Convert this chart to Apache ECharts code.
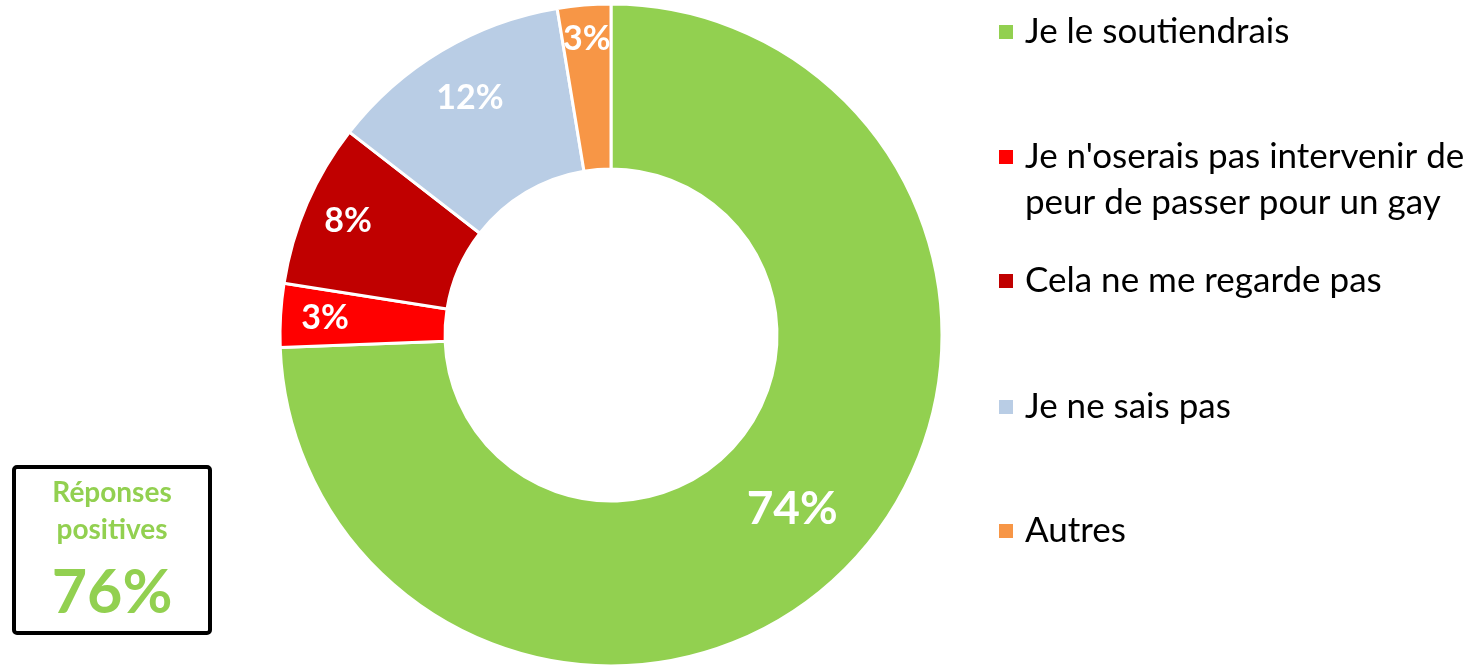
<!DOCTYPE html>
<html>
<head>
<meta charset="utf-8">
<script src="https://cdn.jsdelivr.net/npm/echarts@6/dist/echarts.min.js"></script>
<style>
  html, body { margin: 0; padding: 0; background: #fff; }
  #chart { width: 1480px; height: 672px; }
</style>
</head>
<body>
<div id="chart"></div>
<script>
const categories = [
  'Je le soutiendrais',
  "Je n'oserais pas intervenir de peur de passer pour un gay",
  'Cela ne me regarde pas',
  'Je ne sais pas',
  'Autres'
];
const values = [74.4, 3.1, 8.0, 11.9, 2.6];
const colors = ['#92D050', '#FF0000', '#C00000', '#B9CDE5', '#F79646'];
const positiveTitle = ['Réponses', 'positives'];
const positiveValue = '76%';

const FONT = 'Lato';
const cx = 611, cy = 335;
// push the small labels outward, like the original "best fit" placement
const labelPush = [0, 35, 35, 24, 45];
const legendTops = [11, 88, 260, 386, 510];

const chart = echarts.init(document.getElementById('chart'), null, {renderer: 'canvas'});

const legends = categories.map((name, i) => {
  const twoLines = i === 1;
  return {
    data: [name],
    left: 997,
    top: legendTops[i],
    padding: 0,
    icon: 'rect',
    itemWidth: 16,
    itemHeight: 16,
    selectedMode: false,
    // leading blank line keeps the square beside the first line of the wrapped label
    formatter: twoLines ? "\nJe n'oserais pas intervenir de\npeur de passer pour un gay" : '{name}',
    textStyle: {
      fontFamily: FONT,
      fontSize: 35,
      color: '#000',
      lineHeight: twoLines ? 46 : 42,
      padding: [0, 0, 0, 6]
    }
  };
});

chart.setOption({
  animation: false,
  color: colors,
  legend: legends,
  series: [{
    type: 'pie',
    center: [cx, cy],
    radius: [166, 331],
    startAngle: 90,
    clockwise: true,
    avoidLabelOverlap: false,
    itemStyle: {borderColor: '#fff', borderWidth: 3},
    label: {
      show: true,
      position: 'inside',
      formatter: (p) => Math.round(p.value) + '%',
      color: '#fff',
      fontFamily: FONT,
      fontWeight: 'bold',
      fontSize: 34
    },
    labelLine: {show: false},
    labelLayout: function (params) {
      const r = params.labelRect;
      const mx = r.x + r.width / 2 - cx;
      const my = r.y + r.height / 2 - cy;
      const len = Math.sqrt(mx * mx + my * my) || 1;
      const p = labelPush[params.dataIndex];
      return {dx: mx / len * p, dy: my / len * p};
    },
    data: categories.map((name, i) => ({
      name: name,
      value: values[i],
      label: i === 0 ? {fontSize: 46} : {}
    }))
  }],
  graphic: [
    {
      type: 'rect',
      shape: {x: 14, y: 467, width: 196, height: 166, r: 3},
      style: {fill: '#fff', stroke: '#000', lineWidth: 4}
    },
    {
      type: 'text',
      x: 112, y: 493,
      style: {
        text: positiveTitle[0], fill: '#92D050', font: 'bold 28px ' + FONT,
        align: 'center', verticalAlign: 'middle'
      }
    },
    {
      type: 'text',
      x: 112, y: 530,
      style: {
        text: positiveTitle[1], fill: '#92D050', font: 'bold 28px ' + FONT,
        align: 'center', verticalAlign: 'middle'
      }
    },
    {
      type: 'text',
      x: 112, y: 593,
      style: {
        text: positiveValue, fill: '#92D050', font: 'bold 61px ' + FONT,
        align: 'center', verticalAlign: 'middle'
      }
    }
  ]
});
</script>
</body>
</html>
